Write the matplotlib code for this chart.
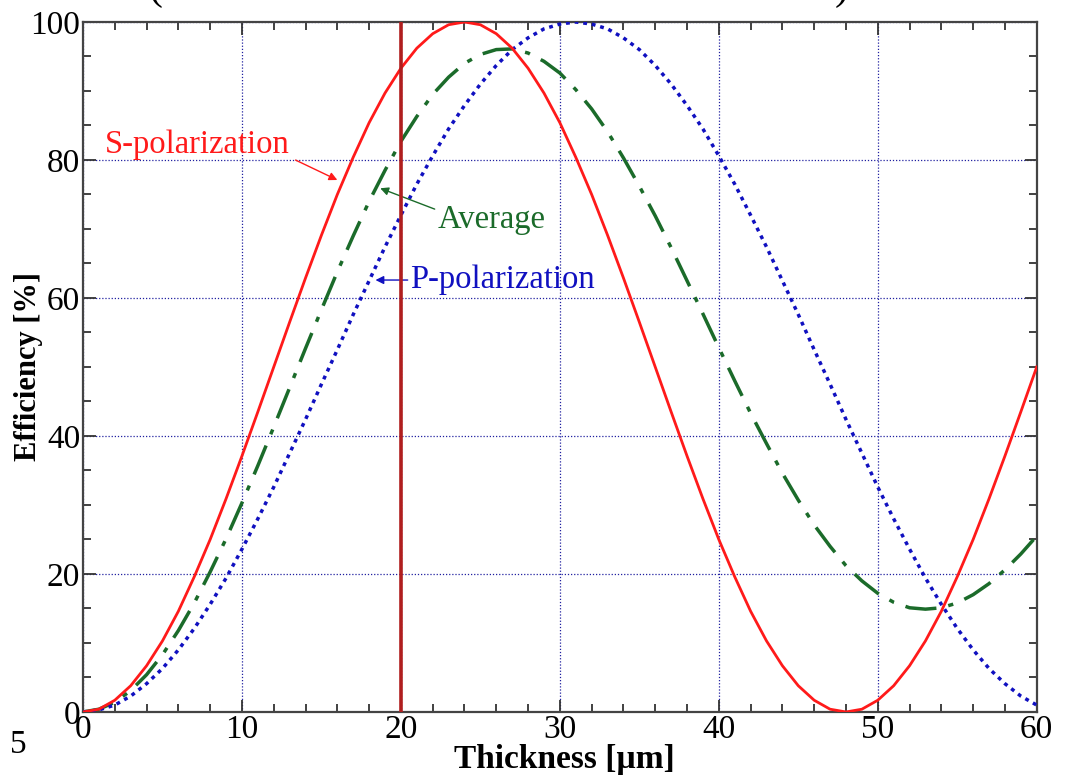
import numpy as np
import matplotlib
matplotlib.use("Agg")
import matplotlib.pyplot as plt
from matplotlib.ticker import MultipleLocator

# thickness in um, efficiency in %
thickness = list(range(0, 61))

s_pol = [0.0, 0.4, 1.7, 3.8, 6.7, 10.3, 14.6, 19.6, 25.0, 30.9,
         37.1, 43.5, 50.0, 56.5, 62.9, 69.1, 75.0, 80.4, 85.4, 89.7,
         93.3, 96.2, 98.3, 99.6, 100.0, 99.6, 98.3, 96.2, 93.3, 89.7,
         85.4, 80.4, 75.0, 69.1, 62.9, 56.5, 50.0, 43.5, 37.1, 30.9,
         25.0, 19.6, 14.6, 10.3, 6.7, 3.8, 1.7, 0.4, 0.0, 0.4,
         1.7, 3.8, 6.7, 10.3, 14.6, 19.6, 25.0, 30.9, 37.1, 43.5,
         50.0]

p_pol = [0.0, 0.3, 1.0, 2.3, 4.1, 6.3, 9.0, 12.1, 15.6, 19.4,
         23.6, 28.0, 32.6, 37.5, 42.4, 47.5, 52.5, 57.6, 62.5, 67.4,
         72.0, 76.5, 80.6, 84.5, 87.9, 91.0, 93.7, 96.0, 97.7, 99.0,
         99.7, 100.0, 99.7, 99.0, 97.7, 96.0, 93.7, 91.0, 87.9, 84.5,
         80.6, 76.5, 72.0, 67.4, 62.5, 57.6, 52.5, 47.5, 42.4, 37.5,
         32.6, 28.0, 23.6, 19.4, 15.6, 12.1, 9.0, 6.3, 4.1, 2.3,
         1.0]

average = [0.0, 0.4, 1.4, 3.1, 5.4, 8.3, 11.8, 15.8, 20.3, 25.1,
           30.3, 35.7, 41.3, 47.0, 52.7, 58.3, 63.8, 69.0, 74.0, 78.5,
           82.7, 86.3, 89.5, 92.0, 94.0, 95.3, 96.0, 96.1, 95.5, 94.3,
           92.6, 90.2, 87.4, 84.1, 80.3, 76.2, 71.9, 67.3, 62.5, 57.7,
           52.8, 48.0, 43.3, 38.9, 34.6, 30.7, 27.1, 24.0, 21.2, 19.0,
           17.2, 15.9, 15.1, 14.9, 15.1, 15.8, 17.0, 18.6, 20.6, 22.9,
           25.5]

marker_thickness = 20

plt.rcParams['font.family'] = ['Liberation Serif', 'DejaVu Serif']

fig = plt.figure(figsize=(10.71, 7.77), dpi=100)
ax = fig.add_axes([0.0775, 0.0837, 0.8905, 0.888])

ax.plot(thickness, s_pol, color='#ff1a1a', lw=2.0, zorder=4)
ax.plot(thickness, average, color='#1b6b2a', lw=2.5,
        dashes=(9, 3.5, 1.5, 3.5), zorder=3)
ax.plot(thickness, p_pol, color='#1010c0', lw=2.5, dashes=(1.1, 1.4), zorder=3)

ax.axvline(marker_thickness, color='#b01e1e', lw=2.6, zorder=5)

ax.set_xlim(0, 60)
ax.set_ylim(0, 100)
ax.xaxis.set_major_locator(MultipleLocator(10))
ax.xaxis.set_minor_locator(MultipleLocator(2))
ax.yaxis.set_major_locator(MultipleLocator(20))
ax.yaxis.set_minor_locator(MultipleLocator(5))

ax.grid(True, which='major', color='#2020a0', linestyle=(0, (1, 1.5)), lw=0.9)
ax.tick_params(which='both', direction='in', top=True, right=True,
               colors='#333333', labelcolor='black', labelsize=24, width=1.3)
ax.tick_params(which='major', length=9, pad=2)
ax.tick_params(which='minor', length=6)
for sp in ax.spines.values():
    sp.set_color('#444444')
    sp.set_linewidth(1.6)

ax.set_xlabel('Thickness [µm]', fontsize=24, fontweight='bold')
ax.set_ylabel('Efficiency [%]', fontsize=22, fontweight='bold')
ax.xaxis.set_label_coords(0.505, -0.046)
ax.yaxis.set_label_coords(-0.042, 0.5)

ax.annotate('S-polarization', xy=(16.0, 77.1), xytext=(1.4, 82.2),
            color='#ff1a1a', fontsize=23.5, va='center', ha='left',
            arrowprops=dict(arrowstyle='-|>', color='#ff1a1a', lw=1.0,
                            mutation_scale=12, shrinkA=0, shrinkB=0,
                            relpos=(1.03, 0.0)))
ax.annotate('Average', xy=(18.7, 75.9), xytext=(22.3, 71.4),
            color='#1b6b2a', fontsize=23.5, va='center', ha='left',
            arrowprops=dict(arrowstyle='-|>', color='#1b6b2a', lw=1.0,
                            mutation_scale=12, shrinkA=0, shrinkB=0,
                            relpos=(0.0, 0.8)))
ax.annotate('P-polarization', xy=(18.4, 62.6), xytext=(20.6, 62.6),
            color='#1010c0', fontsize=23.5, va='center', ha='left',
            arrowprops=dict(arrowstyle='-|>', color='#1010c0', lw=1.0,
                            mutation_scale=12, shrinkA=0, shrinkB=0,
                            relpos=(0.0, 0.5)))

# cropped title remnants and stray page number
fig.text(155 / 1071, 1.014, '(', fontsize=30, va='center', ha='center')
fig.text(842 / 1071, 1.014, ')', fontsize=30, va='center', ha='center')
fig.text(10 / 1071, 1 - 745 / 777, '5', fontsize=24, va='center', ha='left')

fig.savefig('out.png', dpi=100)
